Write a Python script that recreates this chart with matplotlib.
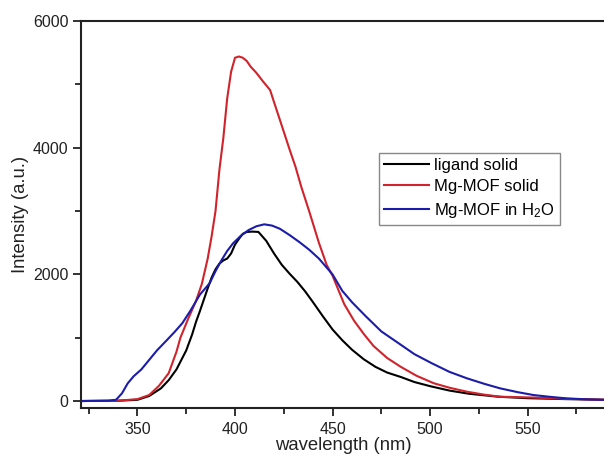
import matplotlib
matplotlib.use("Agg")
import matplotlib.pyplot as plt
from matplotlib.ticker import MultipleLocator

plt.rcParams['font.family'] = ['Liberation Sans', 'DejaVu Sans']
plt.rcParams['mathtext.fontset'] = 'custom'
plt.rcParams['mathtext.rm'] = 'Liberation Sans'
plt.rcParams['mathtext.it'] = 'Liberation Sans'

# Emission spectra (wavelength in nm, intensity in a.u.)
ligand_wl = [320, 340, 350, 356, 362, 366, 370, 375, 378, 380, 382, 384, 386, 388, 390,
             392, 394, 396, 398, 400, 402, 404, 406, 409, 412, 414, 416, 420, 424, 428,
             432, 436, 440, 445, 450, 455, 460, 466, 472, 478, 485, 492, 500, 510, 520,
             535, 550, 570, 590]
ligand_int = [0, 5, 20, 80, 200, 330, 500, 800, 1050, 1250, 1420, 1600, 1780, 1950, 2080,
              2170, 2220, 2250, 2330, 2470, 2560, 2640, 2670, 2675, 2670, 2600, 2530, 2330,
              2150, 2010, 1880, 1730, 1560, 1340, 1130, 960, 810, 660, 540, 450, 380, 300,
              235, 165, 115, 68, 45, 30, 20]

mof_solid_wl = [320, 340, 350, 356, 361, 366, 370, 372, 376, 380, 383, 386, 388, 390, 392,
                394, 396, 398, 400, 402, 404, 406, 408, 411, 414, 418, 420, 423, 428, 431,
                434, 438, 443, 447, 450, 452, 456, 461, 466, 471, 478, 485, 493, 502, 510,
                519, 528, 536, 553, 570, 590]
mof_solid_int = [0, 5, 30, 95, 240, 440, 780, 1000, 1300, 1580, 1850, 2250, 2600, 3000, 3650,
                 4150, 4780, 5200, 5420, 5440, 5420, 5370, 5280, 5180, 5060, 4910, 4720, 4440,
                 3970, 3700, 3380, 3000, 2500, 2150, 1980, 1830, 1530, 1270, 1060, 870, 680,
                 540, 400, 280, 210, 147, 100, 68, 55, 35, 20]

mof_water_wl = [320, 335, 339, 342, 345, 348, 352, 356, 360, 365, 369, 373, 377, 382, 387,
                390, 393, 396, 399, 403, 407, 411, 415, 419, 423, 428, 433, 438, 443, 450,
                455, 460, 467, 475, 484, 492, 501, 510, 519, 528, 536, 545, 553, 562, 570,
                580, 590]
mof_water_int = [0, 5, 20, 120, 280, 390, 500, 650, 800, 960, 1090, 1230, 1420, 1680, 1860,
                 2050, 2220, 2370, 2490, 2610, 2700, 2760, 2790, 2770, 2720, 2620, 2510, 2390,
                 2250, 2000, 1740, 1560, 1340, 1100, 910, 740, 595, 460, 358, 270, 200, 140,
                 95, 65, 42, 27, 18]

labels = ['ligand solid', 'Mg-MOF solid', 'Mg-MOF in H$_2$O']
colors = ['#000000', '#d0232b', '#1c1caa']

fig = plt.figure(figsize=(6.04, 4.54), dpi=100)
ax = fig.add_axes([0.134, 0.1013, 0.8686, 0.8524])

for wl, inten, lab, col in zip([ligand_wl, mof_solid_wl, mof_water_wl],
                               [ligand_int, mof_solid_int, mof_water_int],
                               labels, colors):
    ax.plot(wl, inten, color=col, lw=1.5, label=lab)

ax.set_xlim(321, 590)
ax.set_ylim(-110, 6000)
ax.xaxis.set_major_locator(MultipleLocator(50))
ax.xaxis.set_minor_locator(MultipleLocator(25))
ax.yaxis.set_major_locator(MultipleLocator(2000))
ax.yaxis.set_minor_locator(MultipleLocator(1000))
ax.tick_params(which='major', direction='out', length=6, width=1.3, labelsize=11.5,
               colors='#222222', top=False, right=False)
ax.tick_params(axis='x', which='major', pad=4)
ax.tick_params(axis='y', which='major', pad=3)
ax.tick_params(which='minor', direction='out', length=4, width=1.3,
               colors='#222222', top=False, right=False)
for s in ax.spines.values():
    s.set_linewidth(1.5)
    s.set_color('#222222')

ax.set_xlabel('wavelength (nm)', fontsize=13.3, labelpad=0, color='#222222')
ax.set_ylabel('Intensity (a.u.)', fontsize=13.3, labelpad=3, color='#222222')

leg = ax.legend(loc='upper left', bbox_to_anchor=(0.568, 0.659), fontsize=12,
                frameon=True, fancybox=False, edgecolor='#888888', framealpha=1,
                handlelength=2.7, handletextpad=0.3, borderpad=0.3,
                labelspacing=0.38, borderaxespad=0)
leg.get_frame().set_linewidth(1.0)

fig.savefig('out.png', dpi=100)
